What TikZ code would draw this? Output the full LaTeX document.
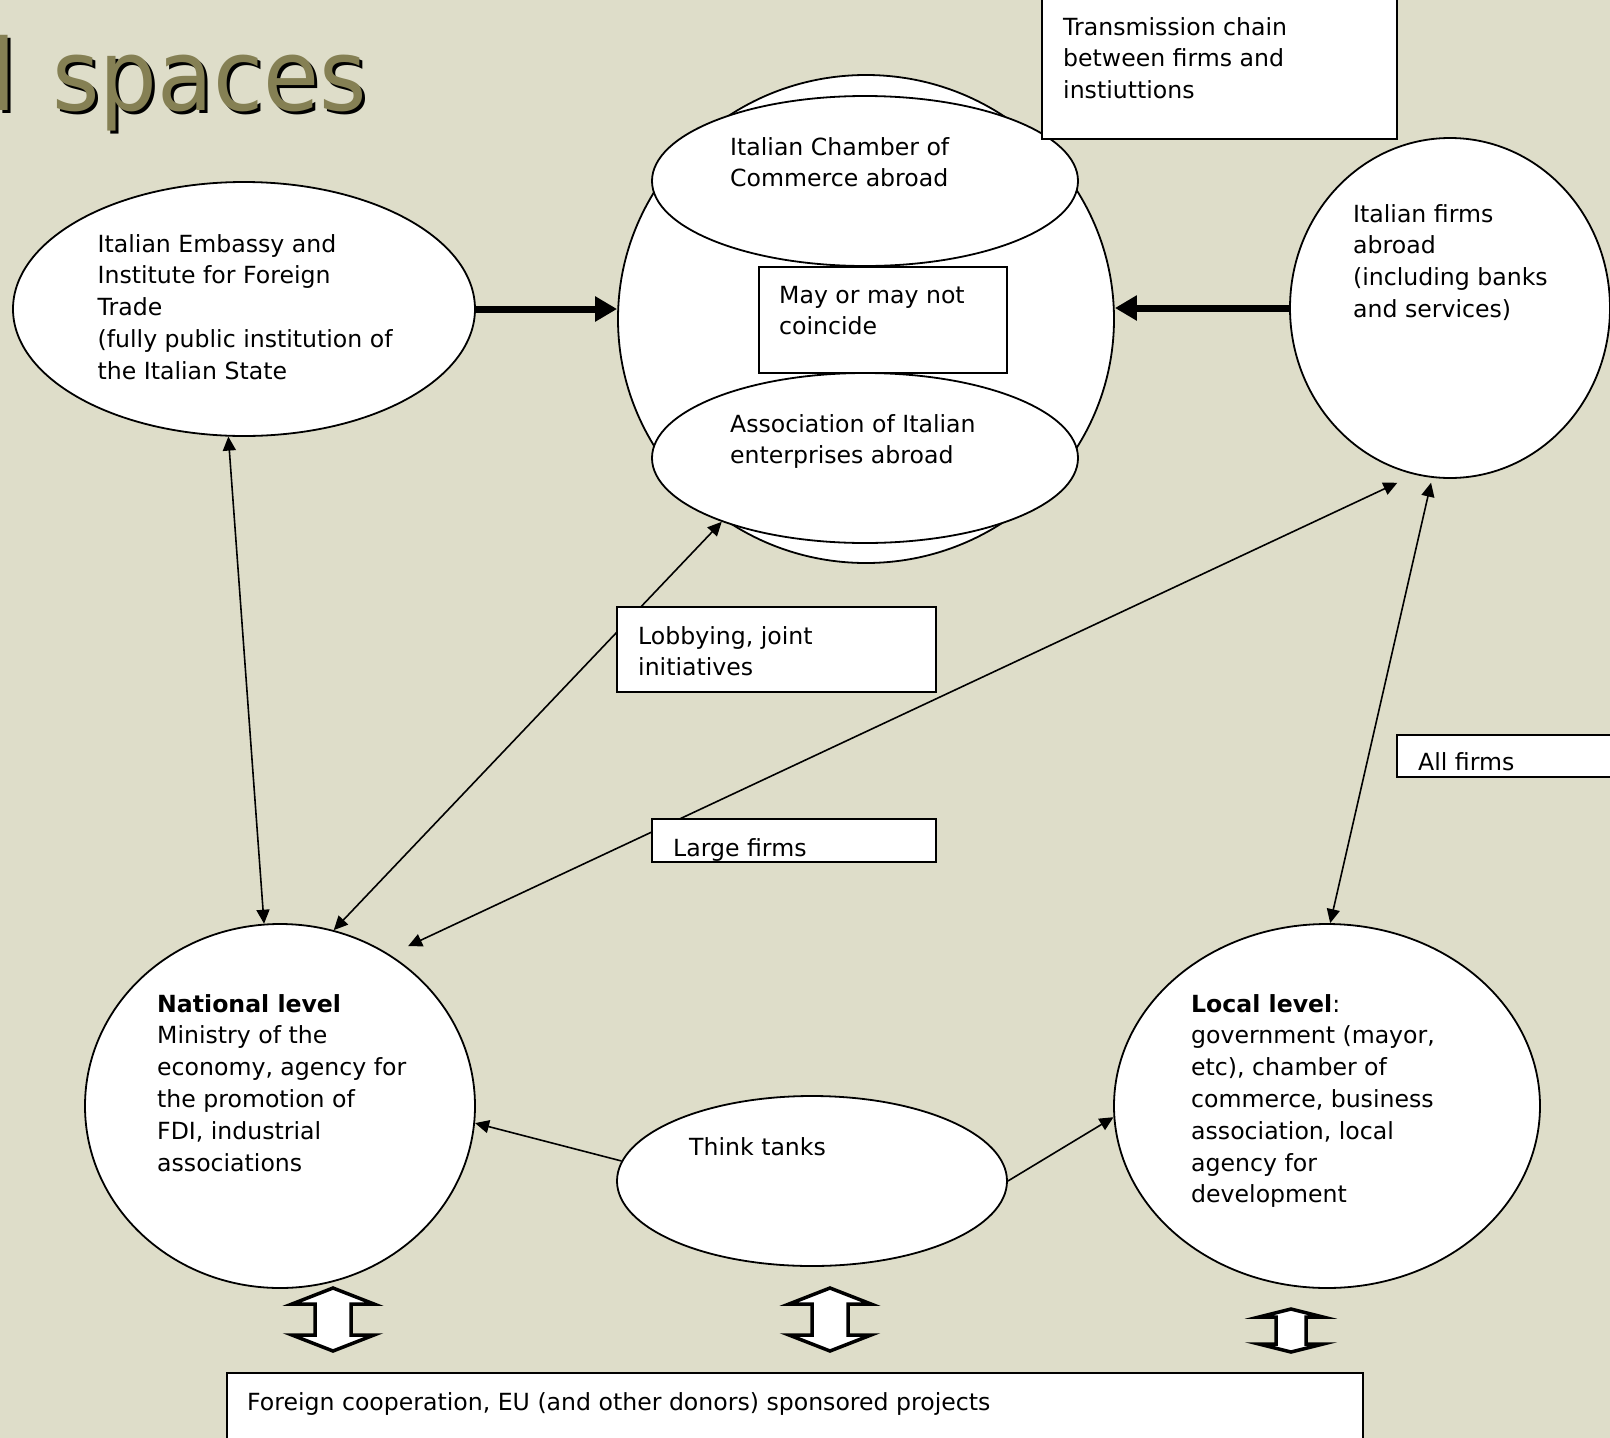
\documentclass[tikz,border=0pt]{standalone}
\usepackage{fontspec}
\setmainfont{DejaVu Sans}
\newfontfamily\titlefont[FakeStretch=0.92]{DejaVu Sans}
\usepackage{xcolor}
\usepackage{tikz}
\usetikzlibrary{positioning,arrows.meta,shapes.geometric}

\definecolor{slidebg}{RGB}{222,221,201}
\definecolor{titleolive}{RGB}{133,128,84}

\newcommand{\blockarrow}[6]{%
  \draw[blockarr] (#1,#2) -- (#1-#4,#2+#6) -- (#1-#5,#2+#6) -- (#1-#5,#3-#6) -- (#1-#4,#3-#6)
    -- (#1,#3) -- (#1+#4,#3-#6) -- (#1+#5,#3-#6) -- (#1+#5,#2+#6) -- (#1+#4,#2+#6) -- cycle;}

\begin{document}
\begin{tikzpicture}[
    x=1pt, y=-1pt,
    blob/.style={ellipse, draw=black, line width=1.8pt, fill=white, inner sep=0pt},
    note/.style={rectangle, draw=black, line width=1.5pt, fill=white, inner sep=0pt},
    txt/.style={anchor=base west, align=left, inner sep=0pt, font=\fontsize{23.6}{31.8}\selectfont},
    titletext/.style={anchor=base east, inner sep=0pt, font=\titlefont\fontsize{99}{110}\selectfont},
    link/.style={{Triangle[length=14pt,width=13pt]}-{Triangle[length=14pt,width=13pt]}, line width=1.6pt},
    feed/.style={-{Triangle[length=14pt,width=13pt]}, line width=1.6pt},
    heavy/.style={-{Triangle[length=22pt,width=24pt]}, line width=7pt},
    blockarr/.style={draw=black, line width=3.5pt, fill=white, line join=miter}
]

\useasboundingbox (0,0) rectangle (1610,1438);
\clip (0,0) rectangle (1610,1438);
\fill[slidebg] (0,0) rectangle (1610,1438);

% Title
\node[titletext, text=black] (title-shadow) at (370,113) {d \hspace{7pt}spaces};
\node[titletext, text=titleolive] (title) at (367,110) {d \hspace{7pt}spaces};

% Abroad
\node[blob, minimum width=462pt, minimum height=254pt] (embassy) at (244,309) {};
\node[blob, minimum width=496pt, minimum height=488pt] (hub) at (866,319) {};
\node[blob, minimum width=426pt, minimum height=170pt] (chamber) at (865,181) {};
\node[blob, minimum width=426pt, minimum height=170pt] (assoc) at (865,458) {};
\node[note, minimum width=248pt, minimum height=106pt] (coincide) at (883,320) {};
\node[blob, minimum width=320pt, minimum height=340pt] (firms) at (1450,308) {};
\node[note, minimum width=355pt, minimum height=160pt] (chain) at (1219.5,59) {};

% Home country
\node[blob, minimum width=390pt, minimum height=364pt] (national) at (280,1106) {};
\node[blob, minimum width=426pt, minimum height=364pt] (local) at (1327,1106) {};
\node[blob, minimum width=390pt, minimum height=170pt] (think) at (812,1181) {};

% Connectors
\draw[heavy] (embassy.east) -- (embassy.east -| hub.west);
\draw[heavy] (firms.west) -- (firms.west -| hub.east);
\draw[link] (embassy.263) -- (national.95);
\draw[link] (assoc.204.6) -- (national.73);
\draw[link, shorten <=19pt, shorten >=20pt] (firms.258) -- (national.54);
\draw[link, shorten <=5pt] (firms.264) -- (local.89);
\draw[feed] (think.174.7) -- (national.355.6);
\draw[feed] (think.east) -- (local.183.2);

% Label boxes
\node[note, minimum width=319pt, minimum height=85pt] (lobby) at (776.5,649.5) {};
\node[note, minimum width=284pt, minimum height=43pt] (large) at (794,840.5) {};
\node[note, minimum width=243pt, minimum height=42pt] (allfirms) at (1518.5,756) {};
\node[note, minimum width=1136pt, minimum height=90pt] (donors) at (795,1418) {};

% Texts (anchored at the baseline of their last line)
\node[txt] (embassy-text) at (97.5,379.2) {Italian Embassy and\\Institute for Foreign\\Trade\\(fully public institution of\\the Italian State};
\node[txt] (chamber-text) at (730,186.8) {Italian Chamber of\\Commerce abroad};
\node[txt] (coincide-text) at (779,334.8) {May or may not\\coincide};
\node[txt] (assoc-text) at (730,463.8) {Association of Italian\\enterprises abroad};
\node[txt] (chain-text) at (1063,98.6) {Transmission chain\\between firms and\\instiuttions};
\node[txt] (firms-text) at (1353,317.4) {Italian firms\\abroad\\(including banks\\and services)};
\node[txt] (lobby-text) at (638,675.8) {Lobbying, joint\\initiatives};
\node[txt] (large-text) at (673,856) {Large firms};
\node[txt] (allfirms-text) at (1418,770) {All firms};
\node[txt] (national-text) at (157,1171) {\textbf{National level}\\Ministry of the\\economy, agency for\\the promotion of\\FDI, industrial\\associations};
\node[txt] (local-text) at (1191,1202.8) {\textbf{Local level}:\\government (mayor,\\etc), chamber of\\commerce, business\\association, local\\agency for\\development};
\node[txt] (think-text) at (689,1155) {Think tanks};
\node[txt] (donors-text) at (247,1410) {Foreign cooperation, EU (and other donors) sponsored projects};

% Double arrows to the projects
\blockarrow{333}{1288}{1351}{41}{18}{16}
\blockarrow{830}{1288}{1351}{41}{18}{16}
\blockarrow{1291}{1309}{1352}{32}{15}{8}

\end{tikzpicture}
\end{document}
